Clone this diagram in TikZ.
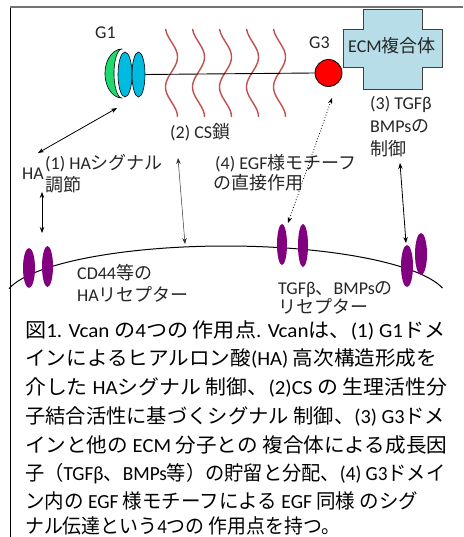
\documentclass[tikz,border=0pt]{standalone}
\usepackage{fontspec}
\usepackage{graphicx}
\setmainfont{Carlito}
\newfontfamily\jafont{Noto Sans CJK JP}
\usetikzlibrary{arrows.meta,shapes.geometric}

% Switch automatically between the Latin and the Japanese font
\XeTeXinterchartokenstate=1
\newXeTeXintercharclass\jaclass
\newcount\jacode
\def\setjarange#1#2{\jacode=#1 \loop\XeTeXcharclass\jacode=\jaclass \ifnum\jacode<#2 \advance\jacode by 1 \repeat}
\setjarange{"3000}{"30FF}
\setjarange{"4E00}{"9FFF}
\setjarange{"FF00}{"FFEF}
\XeTeXinterchartoks 0 \jaclass = {\jafont}
\XeTeXinterchartoks 4095 \jaclass = {\jafont}
\XeTeXinterchartoks \jaclass 0 = {\rmfamily}
\XeTeXinterchartoks 4095 0 = {\rmfamily}

% a caption line set to a given width
\newcommand{\capline}[2]{\resizebox{#1}{\height}{#2}}

\definecolor{txt}{HTML}{262626}
\definecolor{csred}{HTML}{C0504D}
\definecolor{g1green}{HTML}{1ED96E}
\definecolor{g1blue}{HTML}{00BBE0}
\definecolor{ecmfill}{HTML}{B7DEE8}
\definecolor{recep}{HTML}{800080}

\tikzset{
  lbl/.style={anchor=base west, inner sep=0pt, text=txt, font=\fontsize{18}{21}\selectfont},
  captxt/.style={anchor=base west, inner sep=0pt, text=black, font=\fontsize{20}{28}\selectfont},
  dom/.style={ellipse, draw=black, line width=0.6pt, fill=g1blue, inner sep=0pt},
  receptor/.style={ellipse, fill=recep, inner sep=0pt},
  link/.style={line width=0.8pt, {Stealth[length=6pt,width=4.5pt]}-{Stealth[length=6pt,width=4.5pt]}},
  cswave/.style={csred, line width=1.4pt},
}

\begin{document}
\begin{tikzpicture}[x=1pt, y=-1pt]
\useasboundingbox (0,0) rectangle (463,537);
\fill[white] (0,0) rectangle (463,537);

% frame
\draw[black, line width=1.5pt] (10.3,6) -- (10.3,537);
\draw[black!55, line width=2pt] (9.6,6.6) -- (463,6.6);

% chondroitin sulfate chains
\foreach \i in {0,...,4}{
  \draw[cswave] plot[domain=29:117, samples=60, smooth]
    ({171.5+27*\i+6*cos(6*(\x-57))}, \x);
}

% G1 domain
\fill[g1green, draw=black, line width=0.6pt]
  plot[domain=90:270, samples=40] ({122+17*cos(\x)}, {73.5-24.5*sin(\x)})
  -- plot[domain=270:90, samples=40] ({122+8*cos(\x)}, {73.5-24.5*sin(\x)}) -- cycle;
\node[dom, minimum width=14pt, minimum height=45pt] (g1a) at (125,74.5) {};
\node[dom, minimum width=13pt, minimum height=45pt] (g1b) at (138.5,74.5) {};

% G3 domain and ECM complex
\draw[fill=ecmfill, draw=black!75, line width=1pt]
  (343,30) -- (363,30) -- (363,10) -- (422,10) -- (422,30) -- (442,30)
  -- (442,68) -- (422,68) -- (422,90) -- (363,90) -- (363,68) -- (343,68) -- cycle;
\node[circle, draw=black, line width=0.8pt, fill=red, minimum size=27pt, inner sep=0pt] (g3) at (328.5,73) {};
\draw[line width=0.9pt] (g1b.east) -- (g3.west);

% cell membrane
\draw[line width=1pt] plot[domain=167.8:12.7, samples=80, smooth] ({226+222*cos(\x)}, {300-54*sin(\x)});

% receptors
\node[receptor, minimum width=12pt, minimum height=40pt] (r1) at (29,268) {};
\node[receptor, minimum width=11pt, minimum height=41pt] (r2) at (47.5,266.5) {};
\node[receptor, minimum width=10pt, minimum height=41pt] (r3) at (282,244.5) {};
\node[receptor, minimum width=10pt, minimum height=43pt] (r4) at (303,245.5) {};
\node[receptor, minimum width=12pt, minimum height=42pt] (r5) at (407,266) {};
\node[receptor, minimum width=12pt, minimum height=42pt] (r6) at (421,254) {};

% labels
\node[lbl] (lg1) at (95,38.5) {G1};
\node[lbl] (lg3) at (309,48.5) {G3};
\node[anchor=center, inner sep=0pt, text=txt, font=\fontsize{18}{21}\selectfont] (lecm) at (392,46) {ECM複合体};
\node[lbl] (l3a) at (370,109.5) {(3) TGFβ};
\node[lbl] (l3b) at (370,132.5) {BMPsの};
\node[lbl] (l3c) at (370,155.5) {制御};
\node[lbl] (l2) at (170,138.5) {(2) CS鎖};
\node[lbl] (l4a) at (215,169.5) {(4) EGF様モチーフ};
\node[lbl] (l4b) at (213,189.5) {の直接作用};
\node[lbl] (lha) at (22,179.5) {HA};
\node[lbl] (l1a) at (45,169.5) {(1) HAシグナル};
\node[lbl] (l1b) at (45,191.5) {調節};
\node[lbl] (lcda) at (77,279.5) {CD44等の};
\node[lbl] (lcdb) at (77,301.5) {HAリセプター};
\node[lbl] (ltga) at (278,294.5) {TGFβ、BMPsの};
\node[lbl] (ltgb) at (278,313.5) {リセプター};

% connector end points
\coordinate (a1s) at (38,153);
\coordinate (a1e) at (117,108);
\coordinate (a2s) at (42,192);
\coordinate (a2e) at (42,233);
\coordinate (a3s) at (178,158);
\coordinate (a3e) at (185,244);
\coordinate (a4s) at (332,98);
\coordinate (a4e) at (288,223);
\coordinate (a5s) at (400,163);
\coordinate (a5e) at (406,243);

\draw[link] (a1s) -- (a1e);
\draw[link] (a2s) -- (a2e);
\draw[link, line width=0.5pt, black!80] (a3s) -- (a3e);
\draw[link, dotted] (a4s) -- (a4e);
\draw[link] (a5s) -- (a5e);

% caption
\node[captxt] (c1) at (25,337) {\capline{420pt}{図1. Vcan の4つの 作用点. Vcanは、(1) G1ドメ}};
\node[captxt] (c2) at (25,365.5) {\capline{412pt}{インによるヒアルロン酸(HA) 高次構造形成を}};
\node[captxt] (c3) at (25,394.5) {\capline{422pt}{介した HAシグナル 制御、(2)CS の 生理活性分}};
\node[captxt] (c4) at (25,423.5) {\capline{420pt}{子結合活性に基づくシグナル 制御、(3) G3ドメ}};
\node[captxt] (c5) at (25,452) {\capline{422pt}{インと他の ECM 分子との 複合体による成長因}};
\node[captxt] (c6) at (25,480) {\capline{420pt}{子（TGFβ、BMPs等）の貯留と分配、(4) G3ドメイ}};
\node[captxt] (c7) at (25,508.5) {\capline{393pt}{ン内の EGF 様モチーフによる EGF 同様 のシグ}};
\node[captxt] (c8) at (25,533) {\capline{315pt}{ナル伝達という4つの 作用点を持つ。}};
\end{tikzpicture}
\end{document}
